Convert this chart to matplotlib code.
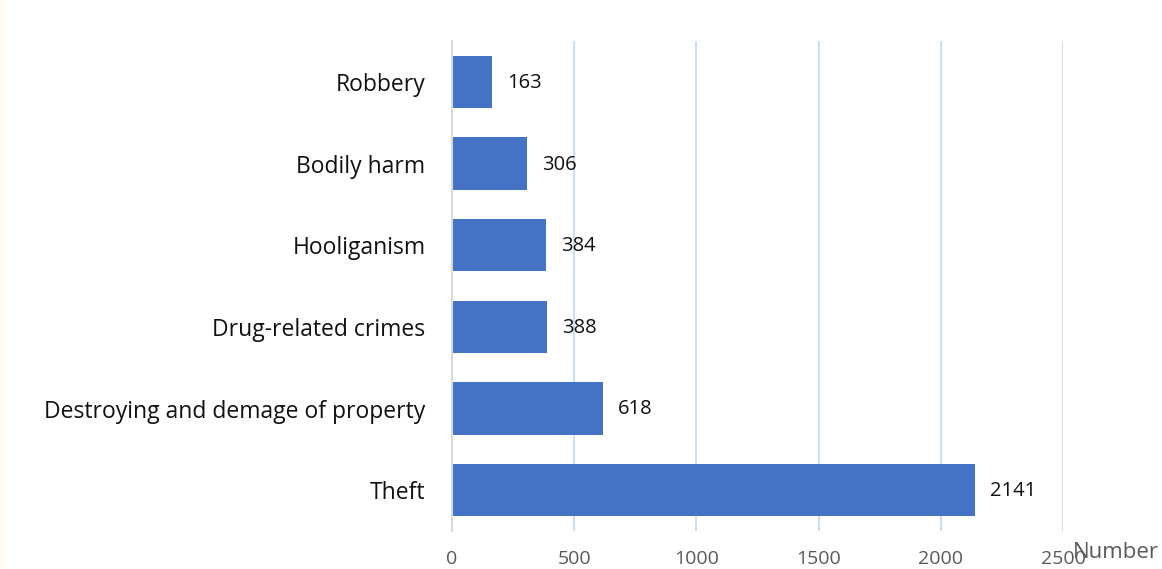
import matplotlib
matplotlib.use("Agg")
import matplotlib.pyplot as plt
import numpy as np

categories = ["Theft", "Destroying and demage of property", "Drug-related crimes",
              "Hooliganism", "Bodily harm", "Robbery"]
values = [2141, 618, 388, 384, 306, 163]
xticks = [0, 500, 1000, 1500, 2000, 2500]

W, H = 1162, 569
fig = plt.figure(figsize=(W / 100, H / 100), dpi=100)
fig.patch.set_facecolor("white")

# faint slide background tint at left edge
grad = np.linspace(1, 0, 8)[None, :]
bg = fig.add_axes([0, 0, 8 / W, 1])
bg.imshow(np.dstack([np.ones_like(grad), np.full_like(grad, 0.97), np.full_like(grad, 0.88), grad * 0.6]),
          aspect="auto", extent=[0, 1, 0, 1])
bg.axis("off")

ax = fig.add_axes([452 / W, 1 - 531 / H, (1063 - 452) / W, (531 - 41) / H])
y = np.arange(len(categories))
ax.barh(y, values, height=0.64, color="#4472c4", zorder=3)
ax.set_xlim(0, 2500)
ax.set_ylim(-0.5, len(categories) - 0.5)
ax.set_xticks(xticks)
ax.set_xticklabels([str(t) for t in xticks], color="#595959", fontsize=14, family="Open Sans")
ax.set_yticks(y)
ax.set_yticklabels(categories, color="#111111", fontsize=16.5, family="Open Sans")
ax.tick_params(axis="x", length=0, pad=13.5)
ax.tick_params(axis="y", length=0, pad=19)
ax.grid(axis="x", color="#c2d8ee", linewidth=1.2, zorder=0)
for s in ["top", "right", "bottom"]:
    ax.spines[s].set_visible(False)
ax.spines["left"].set_color("#d9d9d9")
ax.spines["left"].set_linewidth(1.5)
ax.spines["left"].set_zorder(4)

for yi, v in zip(y, values):
    ax.annotate(str(v), (v, yi), xytext=(15, -1), textcoords="offset pixels",
                va="center", ha="left", fontsize=14.5, color="#111111", family="Open Sans")

fig.text(1073 / W, 1 - 553 / H, "Number", color="#595959", fontsize=16, family="Open Sans",
         va="center", ha="left")

fig.savefig("out.png", dpi=100)
